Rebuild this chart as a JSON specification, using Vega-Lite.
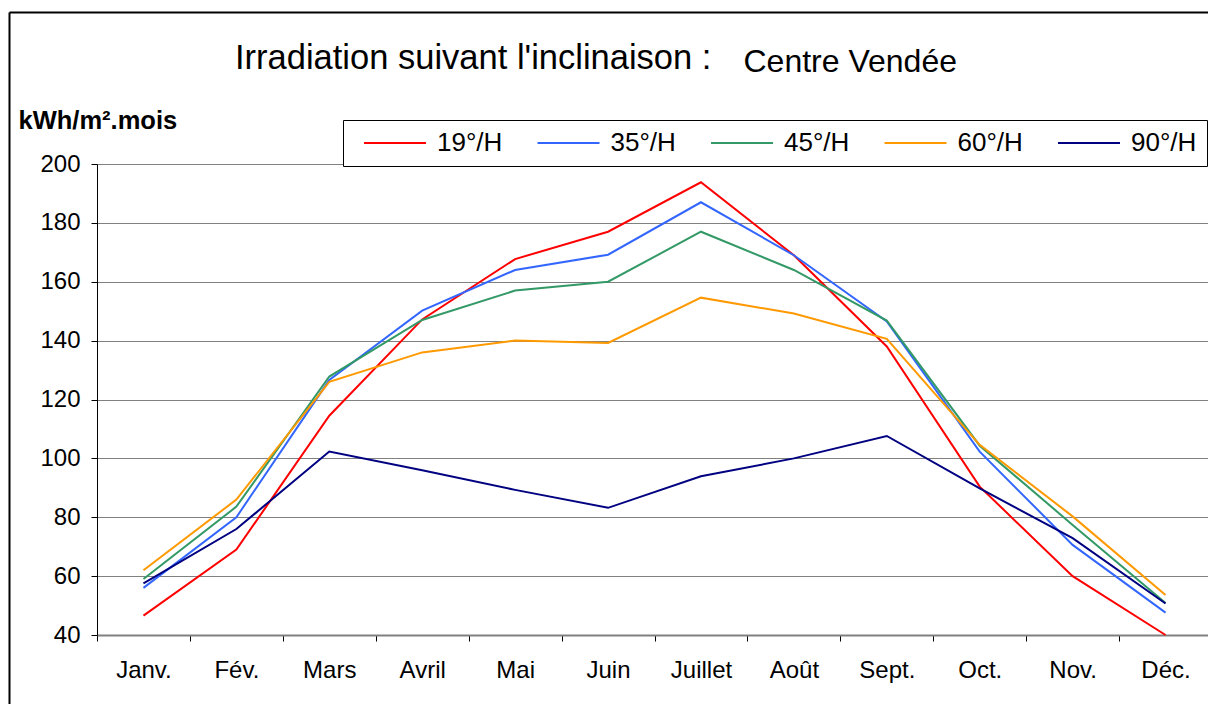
{
  "$schema": "https://vega.github.io/schema/vega-lite/v6.json",
  "width": 1111,
  "height": 471,
  "autosize": {"type": "none"},
  "padding": {"left": 97, "top": 164, "right": 0, "bottom": 69},
  "background": "white",
  "config": {"view": {"stroke": null}, "font": "Liberation Sans"},
  "title": {
    "text": "Irradiation suivant l'inclinaison :",
    "anchor": "start",
    "frame": "group",
    "fontSize": 34.5,
    "fontWeight": "normal",
    "font": "Liberation Sans",
    "color": "black",
    "baseline": "alphabetic",
    "dx": 138,
    "offset": 0,
    "dy": 91
  },
  "data": {
    "values": [
      {"mois": "Janv.", "serie": "19°/H", "v": 46.6},
      {"mois": "Fév.", "serie": "19°/H", "v": 69},
      {"mois": "Mars", "serie": "19°/H", "v": 114.5},
      {"mois": "Avril", "serie": "19°/H", "v": 147.2},
      {"mois": "Mai", "serie": "19°/H", "v": 167.7},
      {"mois": "Juin", "serie": "19°/H", "v": 177},
      {"mois": "Juillet", "serie": "19°/H", "v": 193.8},
      {"mois": "Août", "serie": "19°/H", "v": 169},
      {"mois": "Sept.", "serie": "19°/H", "v": 138},
      {"mois": "Oct.", "serie": "19°/H", "v": 90.4},
      {"mois": "Nov.", "serie": "19°/H", "v": 60},
      {"mois": "Déc.", "serie": "19°/H", "v": 40},
      {"mois": "Janv.", "serie": "35°/H", "v": 56},
      {"mois": "Fév.", "serie": "35°/H", "v": 80},
      {"mois": "Mars", "serie": "35°/H", "v": 126.6},
      {"mois": "Avril", "serie": "35°/H", "v": 150.2},
      {"mois": "Mai", "serie": "35°/H", "v": 164},
      {"mois": "Juin", "serie": "35°/H", "v": 169.2},
      {"mois": "Juillet", "serie": "35°/H", "v": 187},
      {"mois": "Août", "serie": "35°/H", "v": 169},
      {"mois": "Sept.", "serie": "35°/H", "v": 146.5},
      {"mois": "Oct.", "serie": "35°/H", "v": 102.3},
      {"mois": "Nov.", "serie": "35°/H", "v": 70.6},
      {"mois": "Déc.", "serie": "35°/H", "v": 47.6},
      {"mois": "Janv.", "serie": "45°/H", "v": 59},
      {"mois": "Fév.", "serie": "45°/H", "v": 83.6},
      {"mois": "Mars", "serie": "45°/H", "v": 127.8},
      {"mois": "Avril", "serie": "45°/H", "v": 147},
      {"mois": "Mai", "serie": "45°/H", "v": 157},
      {"mois": "Juin", "serie": "45°/H", "v": 160},
      {"mois": "Juillet", "serie": "45°/H", "v": 177},
      {"mois": "Août", "serie": "45°/H", "v": 164},
      {"mois": "Sept.", "serie": "45°/H", "v": 146.8},
      {"mois": "Oct.", "serie": "45°/H", "v": 104.3},
      {"mois": "Nov.", "serie": "45°/H", "v": 77.4},
      {"mois": "Déc.", "serie": "45°/H", "v": 50.9},
      {"mois": "Janv.", "serie": "60°/H", "v": 62},
      {"mois": "Fév.", "serie": "60°/H", "v": 86},
      {"mois": "Mars", "serie": "60°/H", "v": 126},
      {"mois": "Avril", "serie": "60°/H", "v": 136},
      {"mois": "Mai", "serie": "60°/H", "v": 140},
      {"mois": "Juin", "serie": "60°/H", "v": 139.2},
      {"mois": "Juillet", "serie": "60°/H", "v": 154.6},
      {"mois": "Août", "serie": "60°/H", "v": 149.2},
      {"mois": "Sept.", "serie": "60°/H", "v": 140.6},
      {"mois": "Oct.", "serie": "60°/H", "v": 104.6},
      {"mois": "Nov.", "serie": "60°/H", "v": 80.3},
      {"mois": "Déc.", "serie": "60°/H", "v": 53.6},
      {"mois": "Janv.", "serie": "90°/H", "v": 57.5},
      {"mois": "Fév.", "serie": "90°/H", "v": 76},
      {"mois": "Mars", "serie": "90°/H", "v": 102.3},
      {"mois": "Avril", "serie": "90°/H", "v": 96},
      {"mois": "Mai", "serie": "90°/H", "v": 89.3},
      {"mois": "Juin", "serie": "90°/H", "v": 83.2},
      {"mois": "Juillet", "serie": "90°/H", "v": 93.9},
      {"mois": "Août", "serie": "90°/H", "v": 100},
      {"mois": "Sept.", "serie": "90°/H", "v": 107.6},
      {"mois": "Oct.", "serie": "90°/H", "v": 89.8},
      {"mois": "Nov.", "serie": "90°/H", "v": 72.9},
      {"mois": "Déc.", "serie": "90°/H", "v": 50.7}
    ]
  },
  "layer": [
    {
      "mark": {"type": "line", "opacity": 0},
      "encoding": {
        "x": {
          "field": "mois",
          "type": "ordinal",
          "sort": ["Janv.", "Fév.", "Mars", "Avril", "Mai", "Juin", "Juillet", "Août", "Sept.", "Oct.", "Nov.", "Déc."],
          "scale": {"type": "band", "paddingInner": 0, "paddingOuter": 0, "range": [-88, 1111]},
          "axis": {
            "orient": "top",
            "offset": 152,
            "title": null,
            "labels": false,
            "ticks": false,
            "grid": false,
            "domain": true,
            "domainColor": "black",
            "domainWidth": 2
          }
        },
        "y": {
          "field": "v",
          "type": "quantitative",
          "scale": {"domain": [40, 200], "nice": false, "zero": false, "range": [540, -152]},
          "axis": {
            "orient": "left",
            "offset": 88,
            "title": null,
            "labels": false,
            "ticks": false,
            "grid": false,
            "domain": true,
            "domainColor": "black",
            "domainWidth": 2
          }
        }
      }
    },
    {
      "mark": {"type": "line", "strokeWidth": 2},
      "encoding": {
        "x": {
          "field": "mois",
          "type": "ordinal",
          "sort": ["Janv.", "Fév.", "Mars", "Avril", "Mai", "Juin", "Juillet", "Août", "Sept.", "Oct.", "Nov.", "Déc."],
          "scale": {"type": "band", "paddingInner": 0, "paddingOuter": 0, "range": [0, 1115]},
          "axis": {
            "orient": "bottom",
            "title": "Centre Vendée",
            "titleFont": "Liberation Sans",
            "titleFontSize": 32,
            "titleFontWeight": "normal",
            "titleColor": "black",
            "titleAlign": "left",
            "titleBaseline": "alphabetic",
            "titleAnchor": null,
            "titleX": 646,
            "titleY": -564,
            "labelAngle": 0,
            "labelFontSize": 24,
            "labelColor": "black",
            "labelPadding": 17,
            "tickBand": "extent",
            "tickSize": 6,
            "tickColor": "black",
            "domainColor": "#808080",
            "domainWidth": 2,
            "grid": false
          }
        },
        "y": {
          "field": "v",
          "type": "quantitative",
          "scale": {"domain": [40, 200], "nice": false, "zero": false},
          "axis": {
            "orient": "left",
            "values": [40, 60, 80, 100, 120, 140, 160, 180, 200],
            "title": "kWh/m².mois",
            "titleFont": "Liberation Sans",
            "titleFontSize": 25.5,
            "titleFontWeight": "bold",
            "titleColor": "black",
            "titleAngle": 0,
            "titleAlign": "left",
            "titleBaseline": "alphabetic",
            "titleAnchor": null,
            "titleX": -79,
            "titleY": -36,
            "labelFontSize": 24,
            "labelColor": "black",
            "labelPadding": 11,
            "tickSize": 6,
            "tickColor": "black",
            "domainColor": "black",
            "domainWidth": 1,
            "grid": true,
            "gridColor": "#808080",
            "gridWidth": 1
          }
        },
        "color": {
          "field": "serie",
          "type": "nominal",
          "scale": {
            "domain": ["19°/H", "35°/H", "45°/H", "60°/H", "90°/H"],
            "range": ["#FF0000", "#3366FF", "#339966", "#FF9900", "#000080"]
          },
          "legend": {
            "title": null,
            "orient": "none",
            "legendX": 246,
            "legendY": -44,
            "direction": "horizontal",
            "columns": 5,
            "symbolType": "M-3,0H3",
            "symbolSize": 427,
            "symbolStrokeWidth": 2,
            "symbolOffset": 29,
            "labelFontSize": 26,
            "labelColor": "black",
            "labelOffset": 29,
            "columnPadding": 23.5,
            "padding": 10,
            "strokeColor": "black",
            "fillColor": "white"
          }
        }
      }
    }
  ],
  "resolve": {
    "scale": {"x": "independent", "y": "independent"},
    "axis": {"x": "independent", "y": "independent"}
  }
}
